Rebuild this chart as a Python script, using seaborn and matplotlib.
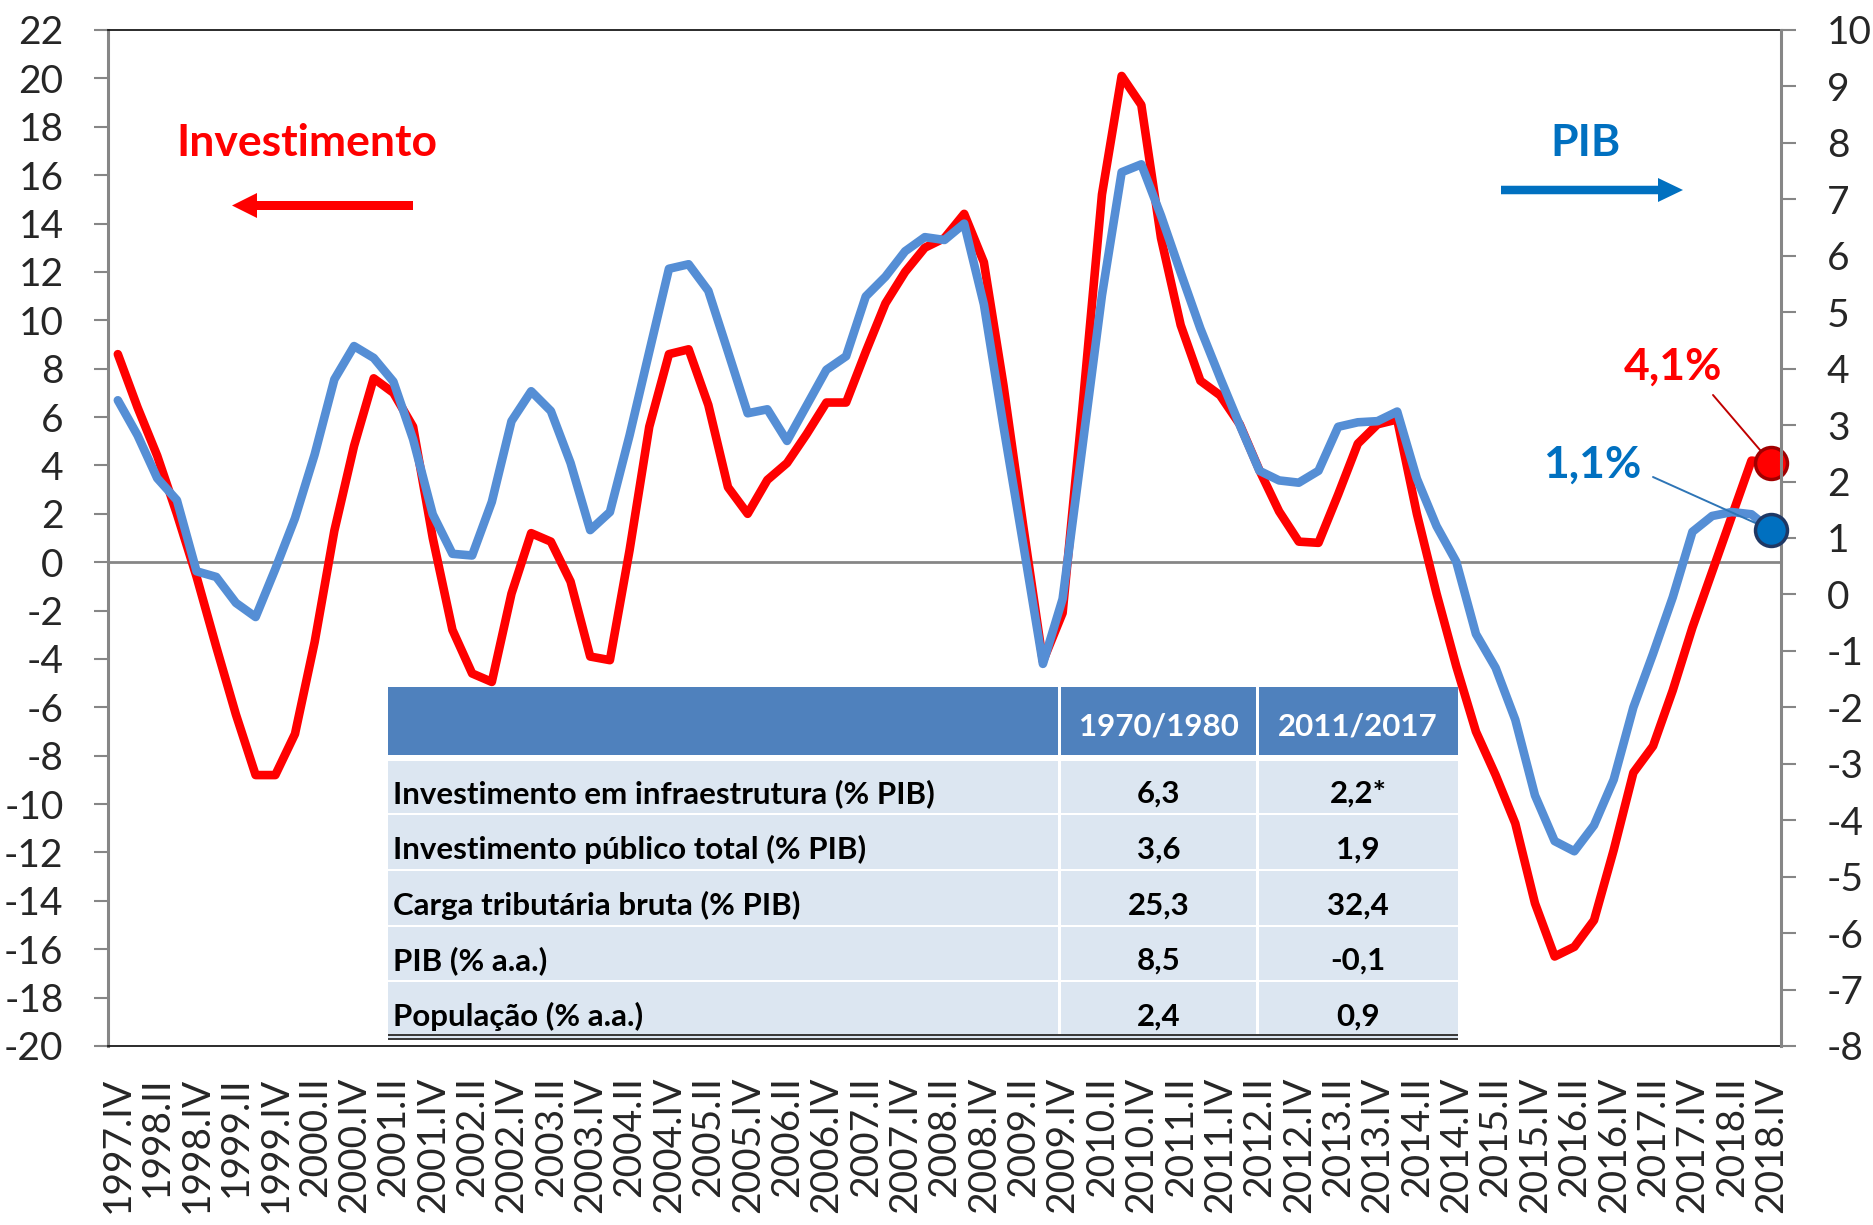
import numpy as np
import matplotlib
matplotlib.use('Agg')
import matplotlib.pyplot as plt
from matplotlib.patches import Rectangle, FancyArrow
import seaborn as sns

# Quarter labels 1997.IV ... 2018.IV
romans = ['I', 'II', 'III', 'IV']
quarters = [f'{1997 + (k + 3) // 4}.{romans[(k + 3) % 4]}' for k in range(85)]

# Investimento (% , left axis)
investimento = [8.6, 6.4, 4.4, 2.0, -0.6, -3.5, -6.3, -8.8, -8.8, -7.1,
                -3.3, 1.3, 4.8, 7.6, 7.0, 5.6, 1.0, -2.8, -4.6, -4.95,
                -1.3, 1.2, 0.85, -0.8, -3.9, -4.05, 0.5, 5.6, 8.6, 8.8,
                6.5, 3.1, 2.0, 3.4, 4.1, 5.3, 6.6, 6.6, 8.7, 10.7,
                12.0, 13.0, 13.4, 14.4, 12.4, 7.3, 1.5, -4.1, -2.1, 6.3,
                15.2, 20.1, 18.9, 13.4, 9.8, 7.5, 6.9, 5.7, 3.8, 2.1,
                0.85, 0.8, 2.8, 4.9, 5.7, 5.9, 2.0, -1.3, -4.3, -7.0,
                -8.8, -10.8, -14.1, -16.3, -15.9, -14.8, -11.9, -8.7, -7.6, -5.3,
                -2.7, -0.4, 1.9, 4.2, 4.1]

# PIB (%, right axis)
pib = [3.44, 2.82, 2.06, 1.67, 0.41, 0.31, -0.15, -0.4, 0.45, 1.35,
       2.48, 3.81, 4.4, 4.19, 3.77, 2.75, 1.42, 0.72, 0.69, 1.64,
       3.07, 3.6, 3.25, 2.33, 1.14, 1.46, 2.82, 4.3, 5.77, 5.85,
       5.38, 4.3, 3.21, 3.28, 2.72, 3.35, 3.98, 4.22, 5.28, 5.63,
       6.08, 6.33, 6.28, 6.57, 5.14, 2.97, 0.89, -1.23, -0.08, 2.6,
       5.3, 7.48, 7.62, 6.71, 5.7, 4.71, 3.84, 3.0, 2.19, 2.02,
       1.98, 2.19, 2.97, 3.05, 3.07, 3.24, 2.05, 1.21, 0.58, -0.7,
       -1.3, -2.22, -3.56, -4.37, -4.55, -4.09, -3.28, -2.0, -1.05, -0.05,
       1.11, 1.39, 1.46, 1.42, 1.14]

# Table contents
table_header = ['', '1970/1980', '2011/2017']
table_labels = ['Investimento em infraestrutura (% PIB)',
                'Investimento público total (% PIB)',
                'Carga tributária bruta (% PIB)',
                'PIB (% a.a.)',
                'População (% a.a.)']
col_1970_1980 = ['6,3', '3,6', '25,3', '8,5', '2,4']
col_2011_2017 = ['2,2*', '1,9', '32,4', '-0,1', '0,9']

RED = '#FF0000'
BLUE_LINE = '#558ED5'
BLUE_TXT = '#0070C0'
GRAY = '#868686'

sns.set_style('white')
plt.rcParams['font.family'] = ['Lato', 'DejaVu Sans']
plt.rcParams['axes.unicode_minus'] = False

W, H = 1874, 1225
fig = plt.figure(figsize=(W / 100, H / 100), dpi=100)
fig.patch.set_facecolor('white')


def fx(px):
    return px / W


def fy(py):
    return 1 - py / H


ax = fig.add_axes([fx(108), fy(1046), (1781 - 108) / W, (1046 - 30) / H])
ax2 = ax.twinx()

x = np.arange(len(quarters))

ax.axhline(0, color=GRAY, lw=2, zorder=1)
sns.lineplot(x=x, y=investimento, ax=ax, color=RED, lw=6.2,
             solid_joinstyle='round', solid_capstyle='round', zorder=3)
sns.lineplot(x=x, y=pib, ax=ax2, color=BLUE_LINE, lw=6.2,
             solid_joinstyle='round', solid_capstyle='round', zorder=3)

ax.set_xlim(-0.5, len(quarters) - 0.5)
ax.set_ylim(-20, 22)
ax2.set_ylim(-8, 10)

ax.set_yticks(range(-20, 23, 2))
ax2.set_yticks(range(-8, 11))
ax.set_xticks(x[::2])
ax.set_xticklabels(quarters[::2], rotation=90)

ax.tick_params(axis='y', labelsize=28, length=10, width=1.5, color=GRAY,
               pad=22, direction='out', left=True)
ax2.tick_params(axis='y', labelsize=28, length=11, width=1.5, color=GRAY,
                pad=22, direction='out', right=True)
ax.tick_params(axis='x', labelsize=28, length=0, pad=22)

for s in ['top', 'bottom']:
    ax.spines[s].set_color('#1a1a1a')
    ax.spines[s].set_linewidth(1.3)
ax.spines['left'].set_color(GRAY)
ax.spines['left'].set_linewidth(2.2)
ax.spines['right'].set_visible(False)
for s in ['top', 'bottom', 'left']:
    ax2.spines[s].set_visible(False)
ax2.spines['right'].set_color(GRAY)
ax2.spines['right'].set_linewidth(2.2)
ax.set_xlabel('')
ax.set_ylabel('')
ax2.set_ylabel('')
ax.grid(False)
ax2.grid(False)

# end-point markers and labels
ax.plot(x[-1], investimento[-1], 'o', ms=23, mfc=RED, mec='#A00000',
        mew=2.5, zorder=6, clip_on=False)
ax2.plot(x[-1], pib[-1], 'o', ms=23, mfc=BLUE_TXT, mec='#1F3864',
         mew=2.5, zorder=6, clip_on=False)
ax.annotate('', xy=(x[-1], investimento[-1]), xycoords='data',
            xytext=(1713, H - 395), textcoords='figure pixels',
            arrowprops=dict(arrowstyle='-', color='#C00000', lw=1.4,
                            shrinkA=0, shrinkB=11))
ax2.annotate('', xy=(x[-1], pib[-1]), xycoords='data',
             xytext=(1653, H - 477), textcoords='figure pixels',
             arrowprops=dict(arrowstyle='-', color='#2E75B6', lw=1.4,
                             shrinkA=0, shrinkB=11))

fig.text(fx(1624), fy(380), '4,1%', color=RED, fontsize=32,
         fontweight='bold', ha='left', va='baseline')
fig.text(fx(1543), fy(478), '1,1%', color=BLUE_TXT, fontsize=32,
         fontweight='bold', ha='left', va='baseline')

# series titles and arrows
fig.text(fx(176), fy(156), 'Investimento', color=RED, fontsize=32,
         fontweight='bold', ha='left', va='baseline')
fig.text(fx(1586), fy(156), 'PIB', color=BLUE_TXT, fontsize=32,
         fontweight='bold', ha='center', va='baseline')
fig.add_artist(FancyArrow(fx(413), fy(205.5), fx(232) - fx(413), 0,
                          width=9 / H, head_width=25 / H, head_length=25 / W,
                          length_includes_head=True, color=RED, lw=0,
                          transform=fig.transFigure))
fig.add_artist(FancyArrow(fx(1501), fy(190), fx(1683) - fx(1501), 0,
                          width=8.5 / H, head_width=24 / H, head_length=25 / W,
                          length_includes_head=True, color=BLUE_TXT, lw=0,
                          transform=fig.transFigure))

# table
col_edges = [388, 1060, 1258, 1458]
row_tops = [761, 814, 870, 926, 981]
row_bottom = 1040
baselines = [803, 859, 915, 970, 1026]


def rect(x0, y0, x1, y1, color, z=5):
    fig.add_artist(Rectangle((fx(x0), fy(y1)), (x1 - x0) / W, (y1 - y0) / H,
                             transform=fig.transFigure, facecolor=color,
                             edgecolor='none', zorder=z))


rect(col_edges[0], 687, col_edges[-1], 755, '#4F81BD')
rect(col_edges[0], 755, col_edges[-1], 761, 'white')
rect(col_edges[0], 761, col_edges[-1], row_bottom, '#DCE6F1')
for yt in row_tops[1:]:
    rect(col_edges[0], yt - 1.5, col_edges[-1], yt + 1, 'white', z=6)
for xc in col_edges[1:-1]:
    rect(xc - 1.5, 687, xc + 1.5, 1034, 'white', z=6)
for yl in [1035, 1039]:
    rect(col_edges[0], yl - 0.8, col_edges[-1], yl + 0.8, '#3a3a3a', z=7)

centers = [(col_edges[1] + col_edges[2]) / 2, (col_edges[2] + col_edges[3]) / 2]
for j, h in enumerate(table_header[1:]):
    fig.text(fx(centers[j]), fy(735.5), h, color='white', fontsize=22.5,
             fontweight='bold', ha='center', va='baseline', zorder=8)
for i, lab in enumerate(table_labels):
    fig.text(fx(393), fy(baselines[i]), lab, color='black', fontsize=22.5,
             fontweight='bold', ha='left', va='baseline', zorder=8)
    fig.text(fx(centers[0]), fy(baselines[i]), col_1970_1980[i], color='black',
             fontsize=22.5, fontweight='bold', ha='center', va='baseline', zorder=8)
    fig.text(fx(centers[1]), fy(baselines[i]), col_2011_2017[i], color='black',
             fontsize=22.5, fontweight='bold', ha='center', va='baseline', zorder=8)

fig.savefig('out.png', dpi=100, facecolor='white')
